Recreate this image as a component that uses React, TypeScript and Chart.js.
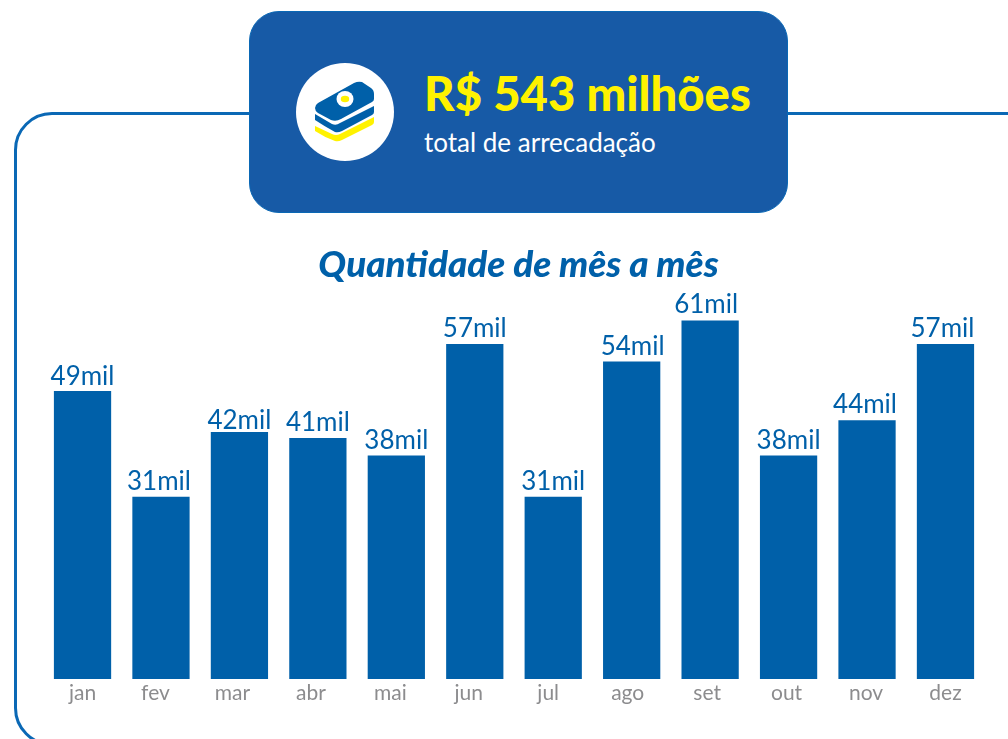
import React, { useEffect, useRef } from "react";
import { Chart, registerables } from "chart.js";

Chart.register(...registerables);

const months = ["jan", "fev", "mar", "abr", "mai", "jun", "jul", "ago", "set", "out", "nov", "dez"];
const quantities = [49, 31, 42, 41, 38, 57, 31, 54, 61, 38, 44, 57];
const totalLabel = "R$ 543 milhões";
const totalCaption = "total de arrecadação";
const chartTitle = "Quantidade de mês a mês";

const BLUE = "#0060a9";

// Small horizontal nudges of the text relative to the bar centres, as in the source layout.
const tickNudge = [0, -5.5, -7, -7, -6, -6, -5, -4, -3, -2, -1, 0];
const valueNudge = [0, -2, 0, 0, 0, 0, 0, 1, -4, 0, -2, -3];
const valueLift = [6, 7, 3, 7, 7, 7, 7, 7, 8, 7, 8, 7];

const valueLabels = {
  id: "valueLabels",
  beforeDraw(chart: any) {
    const items = chart.scales.x.getLabelItems();
    if (items.__nudged) return;
    items.__nudged = true;
    items.forEach((it: any, i: number) => {
      it.options.translation = [it.options.translation[0] + tickNudge[i], it.options.translation[1]];
    });
  },
  afterDatasetsDraw(chart: any) {
    const { ctx } = chart;
    const meta = chart.getDatasetMeta(0);
    ctx.save();
    ctx.font = "26px Lato";
    ctx.fillStyle = BLUE;
    ctx.textAlign = "center";
    ctx.textBaseline = "alphabetic";
    meta.data.forEach((bar: any, i: number) => {
      ctx.fillText(`${quantities[i]}mil`, bar.x + valueNudge[i], bar.y - valueLift[i]);
    });
    ctx.restore();
  },
};

export default function App() {
  const ref = useRef<HTMLCanvasElement>(null);
  useEffect(() => {
    const chart = new Chart(ref.current!, {
      type: "bar",
      data: {
        labels: months,
        datasets: [{ data: quantities, backgroundColor: BLUE, barThickness: 56.6, borderWidth: 0 }],
      },
      options: {
        animation: false,
        responsive: false,
        layout: { padding: { left: 43.3, right: 23.3, top: 268, bottom: 0 } },
        plugins: { legend: { display: false }, tooltip: { enabled: false }, title: { display: false } },
        scales: {
          x: {
            border: { display: false },
            grid: { display: false },
            ticks: { color: "#8c8c8e", font: { family: "Lato", size: 21 }, padding: -6, maxRotation: 0, autoSkip: false },
            afterFit: (s: any) => { s.height = 60; },
          },
          y: { display: false, min: 0, max: 70 },
        },
      },
      plugins: [valueLabels],
    });
    return () => chart.destroy();
  }, []);

  return (
    <div style={{ position: "fixed", left: 0, top: 0, width: 1008, height: 739, overflow: "hidden", background: "#fff", fontFamily: "Lato" }}>
      <div style={{ position: "absolute", left: 14, top: 112, width: 1100, height: 634, boxSizing: "border-box", border: "3px solid #0a68b5", borderRadius: 38 }} />
      <canvas ref={ref} width={1008} height={739} style={{ position: "absolute", left: 0, top: 0 }} />
      <div style={{ position: "absolute", left: 249, top: 11, width: 539, height: 202, boxSizing: "border-box", background: "#175aa6", border: "1.5px solid #0a68b5", borderRadius: 30 }} />
      <div style={{ position: "absolute", left: 296, top: 63, width: 98, height: 98, borderRadius: "50%", background: "#fff" }} />
      <svg style={{ position: "absolute", left: 296, top: 63 }} width={98} height={98} viewBox="0 0 98 98">
        <path d="M19 63 L19 68 Q28 74 39 78 Q42 79 46 77 L76 62 Q78 61 78 59 L78 54 L44 71 Q40 73 36 71 Z" fill="#fff200" />
        <path d="M19 51 L19 57 Q28 63 39 69 Q42 70 46 68 L76 52 Q78 51 78 49 L78 43 L44 60 Q40 63 36 61 Z" fill={BLUE} />
        <path d="M22 40 L58 20 Q62 18 66 19 L75 25 Q78 27 78 31 L78 36 Q78 38 76 39 L45 56 Q40 59 35 57 L22 50 Q19 48 19 45 Q19 42 22 40 Z" fill={BLUE} />
        <ellipse cx="49" cy="36" rx="8.5" ry="8" fill="#fff" />
        <ellipse cx="49" cy="36" rx="4.2" ry="3.2" fill="#fff200" />
      </svg>
      <div style={{ position: "absolute", left: 424, top: 65, fontSize: 47.2, fontWeight: 900, lineHeight: "56px", color: "#fff200", whiteSpace: "nowrap" }}>{totalLabel}</div>
      <div style={{ position: "absolute", left: 424, top: 126, fontSize: 26, lineHeight: "32px", color: "#fff", whiteSpace: "nowrap" }}>{totalCaption}</div>
      <div style={{ position: "absolute", left: 0, width: 1037, top: 241, textAlign: "center", fontSize: 36.8, fontWeight: 900, fontStyle: "italic", lineHeight: "44px", color: BLUE, whiteSpace: "nowrap" }}>{chartTitle}</div>
    </div>
  );
}
